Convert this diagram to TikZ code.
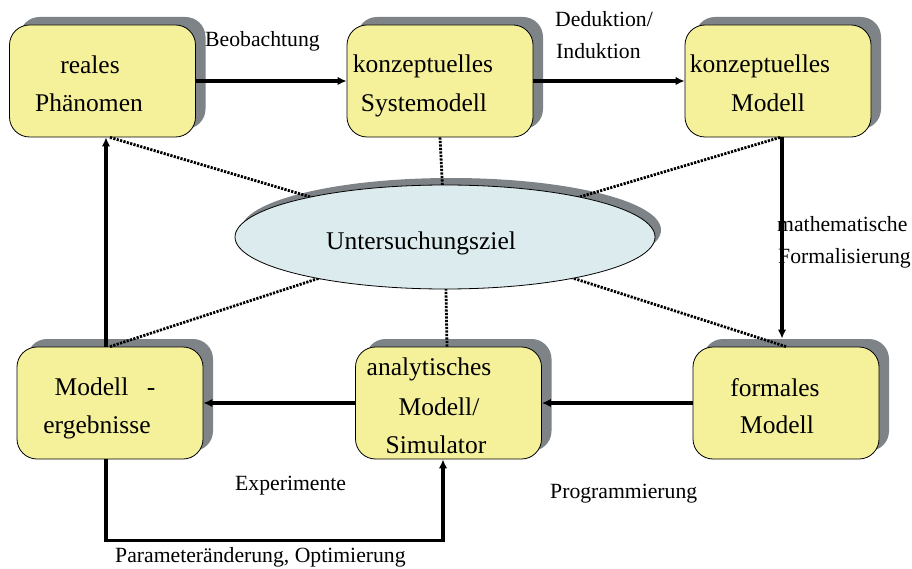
\documentclass[tikz,border=0pt]{standalone}
\usepackage{fontspec}
\setmainfont{Liberation Serif}
\usetikzlibrary{arrows.meta,shapes.geometric,shadows}

\definecolor{boxyellow}{HTML}{F5F09A}
\definecolor{goalblue}{HTML}{DCEBEE}
\definecolor{shadowgray}{HTML}{7D8386}

\tikzset{
  stage/.style={draw=black, line width=0.8pt, fill=boxyellow, rounded corners=20pt,
    minimum width=186pt, minimum height=112pt, inner sep=0pt,
    drop shadow={shadow xshift=10pt, shadow yshift=8pt, fill=shadowgray, opacity=1}},
  goal/.style={draw=black, line width=0.8pt, fill=goalblue, shape=ellipse,
    minimum width=420pt, minimum height=104pt, inner sep=0pt},
  boxtxt/.style={font=\fontsize{25.5}{30}\selectfont, inner sep=0pt, anchor=base},
  edgetxt/.style={font=\fontsize{21.7}{26}\selectfont, inner sep=0pt, anchor=base west},
  flow/.style={line width=3.2pt, -{Latex[length=9pt,width=8.5pt]}},
  link/.style={line width=2.8pt, dash pattern=on 2.2pt off 1.3pt},
}

\begin{document}
\begin{tikzpicture}[x=1pt, y=-1pt]
  \useasboundingbox (0,0) rectangle (912,569);

  % centre of the goal ellipse and its shadow
  \coordinate (ec) at (445,237);
  \fill[shadowgray] (451,230) ellipse [x radius=210pt, y radius=52pt];

  % the six stages
  \node[stage] (b1) at (102.5,81) {};
  \node[stage] (b2) at (440,81) {};
  \node[stage] (b3) at (778,81) {};
  \node[stage] (b4) at (110,403) {};
  \node[stage] (b5) at (448.5,403) {};
  \node[stage] (b6) at (786,403) {};

  % dotted links from every stage to the goal
  \draw[link] ([xshift=7.5pt]b1.south) -- (ec);
  \draw[link] (b2.south) -- (ec);
  \draw[link] ([xshift=2pt]b3.south) -- (ec);
  \draw[link] (b4.north) -- (ec);
  \draw[link] ([xshift=-1.5pt]b5.north) -- (ec);
  \draw[link] (b6.north) -- (ec);

  % goal ellipse
  \node[goal] (e) at (ec) {};
  \node[boxtxt] (t0) at (421,249) {Untersuchungsziel};

  % stage texts
  \node[boxtxt] (t1a) at (90,74) {reales};
  \node[boxtxt] (t1b) at (89,112) {Phänomen};
  \node[boxtxt] (t2a) at (423,73) {konzeptuelles};
  \node[boxtxt] (t2b) at (424,112) {Systemodell};
  \node[boxtxt] (t3a) at (760,73) {konzeptuelles};
  \node[boxtxt] (t3b) at (768,112) {Modell};
  \node[boxtxt] (t4a) at (91.5,395) {Modell};
  \node[boxtxt] (t4h) at (151,395) {-};
  \node[boxtxt] (t4b) at (97,433) {ergebnisse};
  \node[boxtxt] (t5a) at (429,375) {analytisches};
  \node[boxtxt] (t5b) at (439,415) {Modell/};
  \node[boxtxt] (t5c) at (436,453) {Simulator};
  \node[boxtxt] (t6a) at (775,396) {formales};
  \node[boxtxt] (t6b) at (777,433) {Modell};

  % process arrows
  \draw[flow] (b1.east) -- (b2.west);
  \draw[flow] (b2.east) -- (b3.west);
  \draw[flow] ([xshift=4pt]b3.south) -- ([xshift=-4pt,yshift=8pt]b6.north);
  \draw[flow] (b6.west) -- (b5.east);
  \draw[flow] (b5.west) -- (b4.east);
  \draw[flow] ([xshift=-4pt]b4.north) -- ([xshift=-4pt]b4.north |- b1.south);
  \draw[flow] ([xshift=-4pt]b4.south) -- ++(0,81) -| ([xshift=-5.5pt]b5.south);

  % arrow labels
  \node[edgetxt] (l1) at (205,47) {Beobachtung};
  \node[edgetxt] (l2a) at (555,27) {Deduktion/};
  \node[edgetxt] (l2b) at (556,59) {Induktion};
  \node[edgetxt] (l3a) at (777,232) {mathematische};
  \node[edgetxt] (l3b) at (778,263) {Formalisierung};
  \node[edgetxt] (l4) at (550,498) {Programmierung};
  \node[edgetxt] (l5) at (235,490) {Experimente};
  \node[edgetxt] (l6) at (115,562) {Parameteränderung, Optimierung};
\end{tikzpicture}
\end{document}
